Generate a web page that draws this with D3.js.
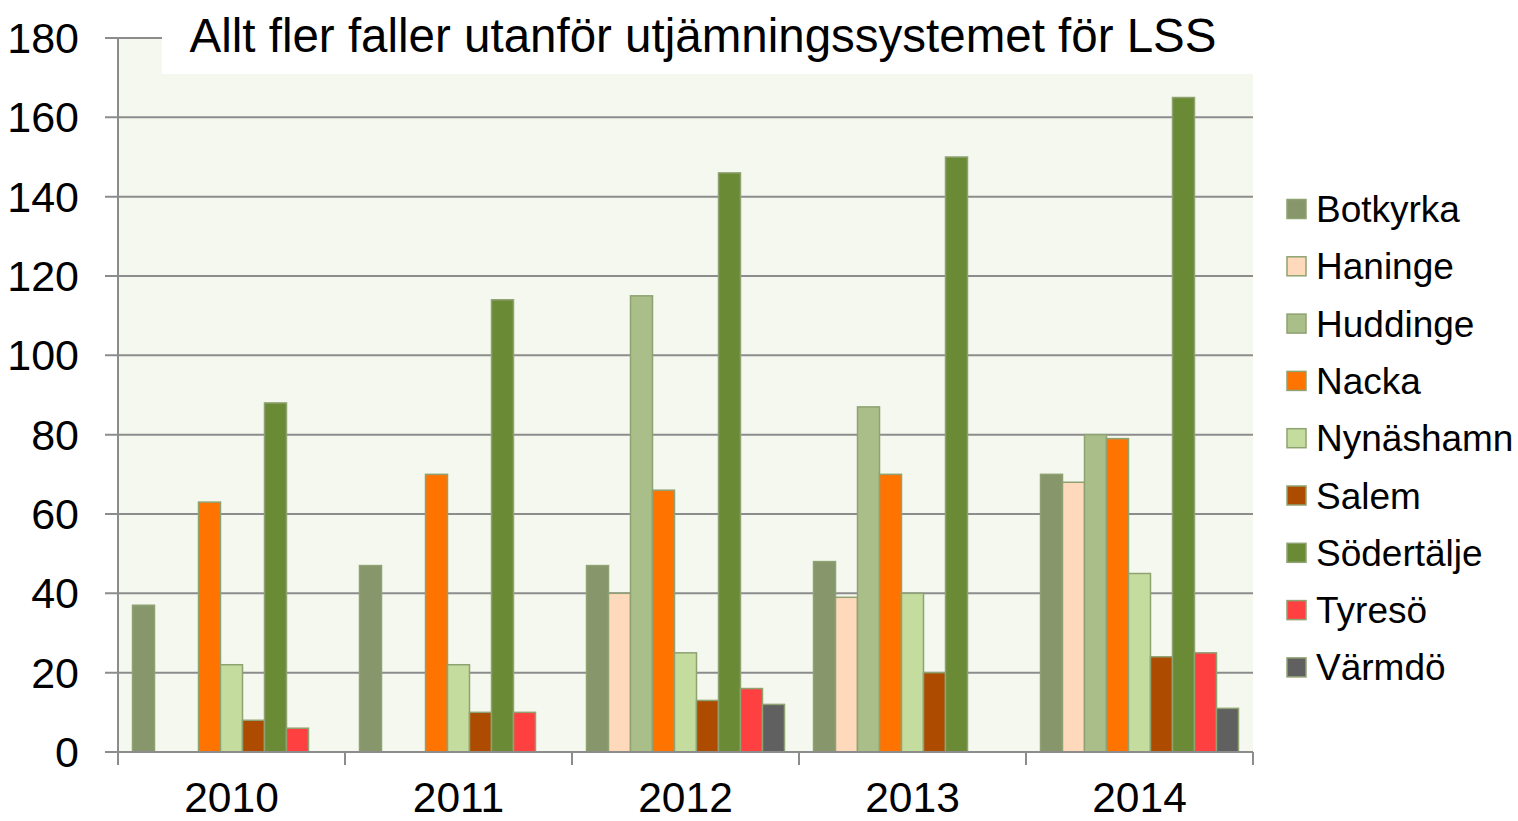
<!DOCTYPE html>
<html><head><meta charset="utf-8">
<script src="https://cdn.jsdelivr.net/npm/d3@7"></script>
<style>body{margin:0;background:#fff;font-family:"Liberation Sans",Arial,sans-serif}</style>
</head><body><svg id="c" width="1518" height="821"></svg>
<script>
const years = ["2010","2011","2012","2013","2014"];
const seriesNames = ["Botkyrka","Haninge","Huddinge","Nacka","Nynäshamn","Salem","Södertälje","Tyresö","Värmdö"];
const colors = ["#87966b","#ffd9bc","#aabe89","#ff7300","#c5dc9f","#ad4b00","#6a8a35","#ff4040","#606060"];
const botkyrka   = [37,47,47,48,70];
const haninge    = [0,0,40,39,68];
const huddinge   = [0,0,115,87,80];
const nacka      = [63,70,66,70,79];
const nynashamn  = [22,22,25,40,45];
const salem      = [8,10,13,20,24];
const sodertalje = [88,114,146,150,165];
const tyreso     = [6,10,16,0,25];
const varmdo     = [0,0,12,0,11];
const yTicks = [0,20,40,60,80,100,120,140,160,180];
const title = "Allt fler faller utanför utjämningssystemet för LSS";

const values = [botkyrka,haninge,huddinge,nacka,nynashamn,salem,sodertalje,tyreso,varmdo];
const svg = d3.select("#c");
const L=118,R=1253,T=38,B=752;
const x0 = d3.scaleBand().domain(years).range([L,R]).paddingInner(0).paddingOuter(0);
const x1 = d3.scaleBand().domain(seriesNames).range([0,x0.bandwidth()]).paddingInner(0).paddingOuter(0.66);
const y = d3.scaleLinear().domain([0,180]).range([B,T]);

svg.append("rect").attr("x",L).attr("y",T).attr("width",R-L).attr("height",B-T).attr("fill","#f5f8ef");
// grid
svg.append("g").selectAll("line").data(yTicks.filter(d=>d>0)).join("line")
  .attr("x1",L-13).attr("x2",R).attr("y1",d=>y(d)).attr("y2",d=>y(d))
  .attr("stroke","#8c8c8c").attr("stroke-width",2);
// title box
svg.append("rect").attr("x",162).attr("y",0).attr("width",R-162).attr("height",74).attr("fill","#fff");
svg.append("text").attr("x",703).attr("y",52).attr("text-anchor","middle")
  .attr("font-size",47.5).attr("fill","#000").text(title);

// bars
const g = svg.append("g");
years.forEach((yr,i)=>{
  seriesNames.forEach((s,j)=>{
    const v = values[j][i];
    if(!v) return;
    g.append("rect").attr("x",x0(yr)+x1(s)).attr("y",y(v))
      .attr("width",x1.bandwidth()).attr("height",B-y(v))
      .attr("fill",colors[j]).attr("stroke","#8fa272").attr("stroke-width",1.5);
  });
});

// axes
svg.append("line").attr("x1",L).attr("x2",L).attr("y1",T).attr("y2",B+13).attr("stroke","#8c8c8c").attr("stroke-width",2);
svg.append("line").attr("x1",L-13).attr("x2",R).attr("y1",B).attr("y2",B).attr("stroke","#8c8c8c").attr("stroke-width",2);
svg.append("line").attr("x1",L-13).attr("x2",L).attr("y1",T).attr("y2",T).attr("stroke","#8c8c8c").attr("stroke-width",2);
const bounds = years.map(d=>x0(d)+x0.bandwidth());
svg.append("g").selectAll("line").data(bounds).join("line")
  .attr("x1",d=>d).attr("x2",d=>d).attr("y1",B).attr("y2",B+13).attr("stroke","#8c8c8c").attr("stroke-width",2);
svg.append("g").selectAll("text").data(yTicks).join("text")
  .attr("x",79).attr("y",d=>y(d)+15).attr("text-anchor","end").attr("font-size",43).text(d=>d);
svg.append("g").selectAll("text").data(years).join("text")
  .attr("x",d=>x0(d)+x0.bandwidth()/2).attr("y",812).attr("text-anchor","middle").attr("font-size",42.5).text(d=>d);

// legend
const lg = svg.append("g");
seriesNames.forEach((s,j)=>{
  const cy = 209 + j*57.3;
  lg.append("rect").attr("x",1287).attr("y",cy-9.5).attr("width",19).attr("height",19)
    .attr("fill",colors[j]).attr("stroke","#8fa272").attr("stroke-width",1.5);
  lg.append("text").attr("x",1316).attr("y",cy+13).attr("font-size",37).text(s);
});
</script></body></html>
